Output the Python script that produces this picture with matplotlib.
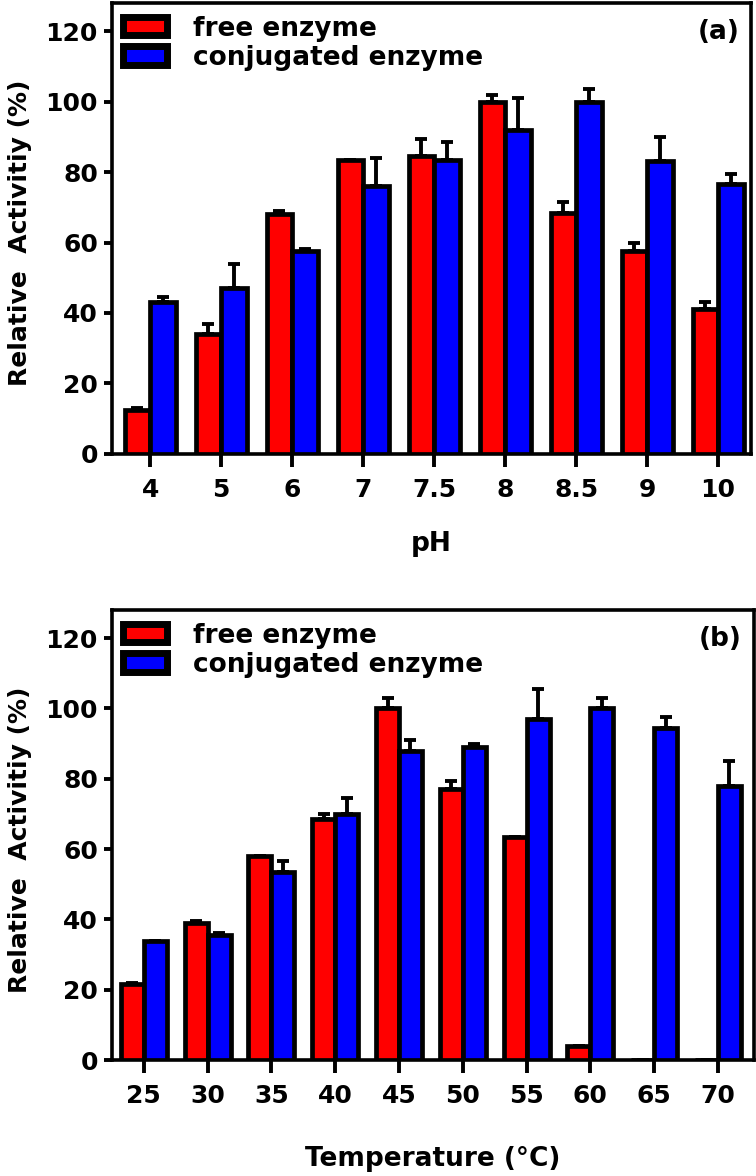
import numpy as np
import matplotlib
matplotlib.use("Agg")
import matplotlib.pyplot as plt
from matplotlib.patches import Patch

plt.rcParams['font.family'] = ['DejaVu Sans']
plt.rcParams['font.weight'] = 'bold'

# pH data (a)
ph_labels = ['4', '5', '6', '7', '7.5', '8', '8.5', '9', '10']
free_ph = [12.5, 34, 68, 83.5, 84.5, 100, 68.5, 57.5, 41]
free_ph_err = [0.5, 3, 1, 0, 5, 2, 3, 2.5, 2]
conj_ph = [43, 47, 57.5, 76, 83.5, 92, 100, 83, 76.5]
conj_ph_err = [1.5, 7, 0.8, 8, 5, 9, 3.5, 7, 3]

# temperature data (b)
temp_labels = ['25', '30', '35', '40', '45', '50', '55', '60', '65', '70']
free_t = [21.5, 39, 58, 68.5, 100, 77, 63.5, 4, 0, 0]
free_t_err = [0.5, 0.5, 0, 1.5, 3, 2.5, 0, 0, 0, 0]
conj_t = [34, 35.5, 53.5, 70, 88, 89, 97, 100, 94.5, 78]
conj_t_err = [0, 0.5, 3, 4.5, 3, 1, 8.5, 3, 3, 7]

series_names = ['free enzyme', 'conjugated enzyme']
colors = ['#ff0000', '#0000ff']


def draw_panel(ax, labels, free, free_err, conj, conj_err, xlabel, tag, xlim):
    x = np.arange(len(labels))
    w = 0.36
    for off, vals, errs, c in [(-w / 2, free, free_err, colors[0]),
                               (w / 2, conj, conj_err, colors[1])]:
        ax.bar(x + off, vals, w, color=c, edgecolor='black', linewidth=3.4, zorder=3)
        ax.errorbar(x + off, vals, yerr=[np.zeros(len(vals)), errs], fmt='none',
                    ecolor='black', elinewidth=2.8, capsize=4.5, capthick=2.8, zorder=2)
    ax.set_xlim(*xlim)
    ax.set_ylim(0, 128)
    ax.set_yticks([0, 20, 40, 60, 80, 100, 120])
    ax.set_xticks(x)
    ax.set_xticklabels(labels)
    for s in ax.spines.values():
        s.set_linewidth(2.6)
    ax.tick_params(axis='x', length=9, width=2.8, pad=8, labelsize=18)
    ax.tick_params(axis='y', length=6, width=2.8, pad=4, labelsize=18)
    # label anchor is its right edge
    ax.set_ylabel('Relative  Activitiy (%)', fontsize=18, fontweight='bold')
    ax.yaxis.set_label_coords(-0.125, 0.49)
    ax.set_xlabel(xlabel, fontsize=19, fontweight='bold')
    handles = [Patch(facecolor=colors[i], edgecolor='black', linewidth=5) for i in range(2)]
    ax.legend(handles, series_names, loc='upper left', bbox_to_anchor=(0.017, 0.972),
              frameon=False, handlelength=1.67, handleheight=0.68,
              handletextpad=1.0, labelspacing=0.12, borderpad=0, borderaxespad=0,
              prop={'weight': 'bold', 'size': 19})
    ax.text(0.981, 0.936, tag, transform=ax.transAxes, ha='right', va='center',
            fontsize=19, fontweight='bold')


fig = plt.figure(figsize=(7.56, 11.76), dpi=100)
ax1 = fig.add_axes([0.148, 0.614, 0.846, 0.3835])
ax2 = fig.add_axes([0.148, 0.0986, 0.849, 0.3827])

draw_panel(ax1, ph_labels, free_ph, free_ph_err, conj_ph, conj_ph_err,
           'pH', '(a)', (-0.54, 8.47))
ax1.xaxis.set_label_coords(0.5, -0.17)
draw_panel(ax2, temp_labels, free_t, free_t_err, conj_t, conj_t_err,
           'Temperature (°C)', '(b)', (-0.5, 9.56))
ax2.xaxis.set_label_coords(0.5, -0.19)

fig.savefig('out.png', dpi=100)
